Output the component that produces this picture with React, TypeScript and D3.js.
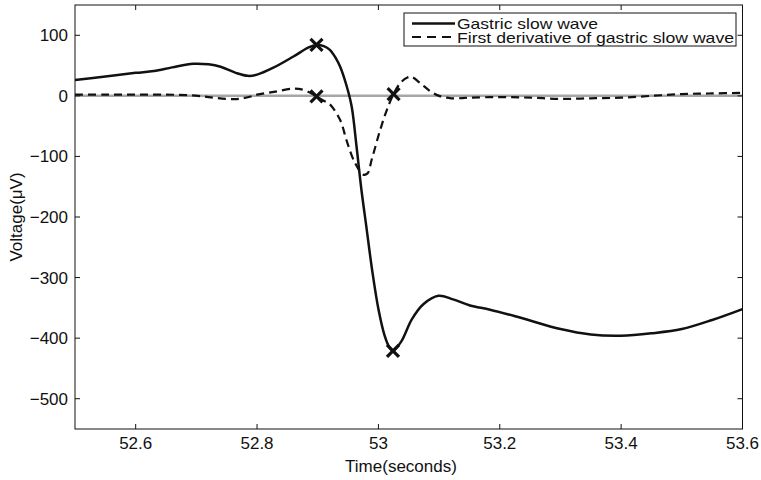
import React from "react";
import * as d3 from "d3";

const slowTime = [52.5, 52.55, 52.6, 52.63, 52.66, 52.695, 52.72, 52.74, 52.765, 52.785, 52.8, 52.826, 52.86, 52.885, 52.898, 52.91, 52.92, 52.93, 52.937, 52.948, 52.956, 52.964, 52.972, 52.98, 52.99, 53.0, 53.01, 53.018, 53.024, 53.038, 53.055, 53.074, 53.099, 53.123, 53.151, 53.184, 53.233, 53.3, 53.35, 53.4, 53.45, 53.5, 53.55, 53.6];
const slowVolt = [26, 32, 38, 41, 47, 53, 52, 48, 38, 33, 35, 46, 65, 80, 84, 82, 76, 62, 48, 15, -18, -84, -155, -215, -290, -352, -395, -415, -421, -405, -369, -344, -330, -336, -346, -353, -366, -385, -394, -396, -392, -385, -370, -352];

const derivTime = [52.5, 52.55, 52.6, 52.65, 52.69, 52.72, 52.75, 52.77, 52.79, 52.8, 52.83, 52.86, 52.876, 52.89, 52.898, 52.91, 52.92, 52.937, 52.948, 52.961, 52.975, 52.982, 52.989, 53.003, 53.014, 53.025, 53.036, 53.047, 53.055, 53.069, 53.085, 53.1, 53.12, 53.15, 53.2, 53.25, 53.3, 53.35, 53.4, 53.45, 53.5, 53.55, 53.6];
const derivVolt = [2, 2, 2, 2, 1, -2, -5, -5, -1, 2, 7, 12, 10, 4, -1, -8, -14, -40, -75, -110, -130, -128, -105, -56, -23, 3, 21, 30, 31, 21, 8, 0, -4, -3, -2, -3, -5, -4, -3, 0, 3, 4, 5];

const markerTime = [52.898, 53.024, 52.898, 53.025];
const markerVolt = [84, -421, -1, 3];

const xTicks = [52.6, 52.8, 53, 53.2, 53.4, 53.6];
const yTicks = [100, 0, -100, -200, -300, -400, -500];

const legendLabels = ["Gastric slow wave", "First derivative of gastric slow wave"];

const W = 761, H = 480;
const L = 75, R = 742.5, T = 5, B = 429;
const FONT = "'Liberation Sans', Arial, Helvetica, sans-serif";

export default function App() {
  const x = d3.scaleLinear().domain([52.5, 53.6]).range([L, R]);
  const y = d3.scaleLinear().domain([-550, 150]).range([B, T]);
  const line = d3
    .line<[number, number]>()
    .x((d) => x(d[0]))
    .y((d) => y(d[1]))
    .curve(d3.curveCatmullRom.alpha(0.5));
  const slow = slowTime.map((t, i) => [t, slowVolt[i]] as [number, number]);
  const deriv = derivTime.map((t, i) => [t, derivVolt[i]] as [number, number]);
  const fmt = (v: number) => (v < 0 ? "\u2212" + Math.abs(v) : String(v));
  const tickLen = 5;
  const ms = 6;
  return (
    <div style={{ position: "fixed", left: 0, top: 0 }}>
      <svg width={W} height={H} style={{ display: "block", background: "#fff" }} fontFamily={FONT}>
        <rect x={0} y={0} width={W} height={H} fill="#fff" />
        <defs>
          <clipPath id="plot">
            <rect x={L} y={T} width={R - L} height={B - T} />
          </clipPath>
        </defs>
        <g clipPath="url(#plot)">
          <line x1={L} x2={R} y1={y(0)} y2={y(0)} stroke="#a6a6a6" strokeWidth={2.5} />
          <path d={line(deriv) || ""} fill="none" stroke="#111" strokeWidth={2.2} strokeDasharray="8,5" />
          <path d={line(slow) || ""} fill="none" stroke="#111" strokeWidth={2.5} />
          {markerTime.map((t, i) => (
            <g key={i} transform={`translate(${x(t)},${y(markerVolt[i])})`} stroke="#111" strokeWidth={3.2}>
              <line x1={-ms} y1={-ms} x2={ms} y2={ms} />
              <line x1={-ms} y1={ms} x2={ms} y2={-ms} />
            </g>
          ))}
        </g>
        <rect x={L} y={T} width={R - L} height={B - T} fill="none" stroke="#111" strokeWidth={1} />
        {xTicks.map((t) => (
          <g key={t}>
            <line x1={x(t)} x2={x(t)} y1={B} y2={B - tickLen} stroke="#111" />
            <line x1={x(t)} x2={x(t)} y1={T} y2={T + tickLen} stroke="#111" />
            <text x={x(t)} y={449} textAnchor="middle" fontSize={17} fill="#111">
              {String(t)}
            </text>
          </g>
        ))}
        {yTicks.map((v) => (
          <g key={v}>
            <line x1={L} x2={L + tickLen} y1={y(v)} y2={y(v)} stroke="#111" />
            <line x1={R} x2={R - tickLen} y1={y(v)} y2={y(v)} stroke="#111" />
            <text x={68} y={y(v) + 6} textAnchor="end" fontSize={17} fill="#111">
              {fmt(v)}
            </text>
          </g>
        ))}
        <text x={401} y={472} textAnchor="middle" fontSize={17} fill="#111">
          Time(seconds)
        </text>
        <text transform={`translate(22,${(T + B) / 2}) rotate(-90)`} textAnchor="middle" fontSize={17} fill="#111">
          Voltage(μV)
        </text>
        <g>
          <rect x={404} y={13} width={332} height={33} fill="#fff" stroke="#111" strokeWidth={1} />
          <line x1={412} x2={455} y1={23.5} y2={23.5} stroke="#111" strokeWidth={2.5} />
          <line x1={412} x2={455} y1={37} y2={37} stroke="#111" strokeWidth={2.2} strokeDasharray="9,6" />
          <text x={457} y={29} fontSize={15} fill="#111" textLength={141} lengthAdjust="spacingAndGlyphs">
            {legendLabels[0]}
          </text>
          <text x={457} y={42.5} fontSize={15} fill="#111" textLength={277} lengthAdjust="spacingAndGlyphs">
            {legendLabels[1]}
          </text>
        </g>
      </svg>
    </div>
  );
}
